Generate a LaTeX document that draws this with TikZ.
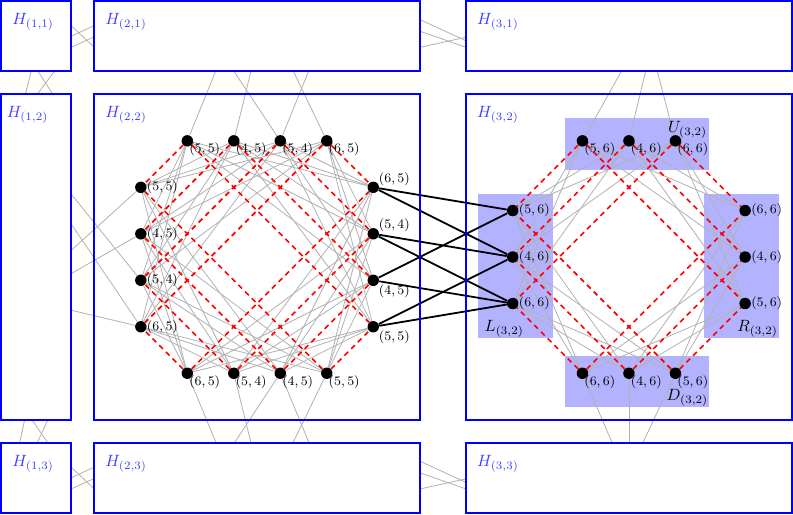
\documentclass[tikz,border=0pt]{standalone}
\pgfdeclarelayer{shadelayer}
\pgfdeclarelayer{edgelayer}
\pgfsetlayers{shadelayer,edgelayer,main}
\begin{document}
\begin{tikzpicture}[
  box/.style={draw=blue, line width=1.2pt, inner sep=0pt},
  wbox/.style={box, fill=white},
  hlab/.style={anchor=north west, inner sep=0pt, text=blue!75},
  dot/.style={circle, fill=black, inner sep=0pt, minimum size=7pt},
  lbr/.style={anchor=north west, font=\footnotesize, inner sep=1pt},
  lrt/.style={anchor=west, font=\footnotesize, inner sep=1pt, xshift=0.09cm},
  lart/.style={anchor=south west, font=\footnotesize, inner sep=1pt, xshift=0.08cm},
  lbrt/.style={anchor=north west, font=\footnotesize, inner sep=1pt, xshift=0.08cm, yshift=-0.05cm},
  gedge/.style={draw=gray!60, line width=0.5pt},
  redge/.style={draw=red, dash pattern=on 3.2pt off 2.6pt, line width=1pt},
  bedge/.style={draw=black, line width=1.1pt},
  shadebox/.style={fill=blue!30, inner sep=0pt},
  glab/.style={inner sep=0pt}
]
\useasboundingbox (-0.03,0.03) rectangle (17.03,-11.03);

% ---------- boxes ----------
\node[wbox, minimum width=1.5cm, minimum height=1.5cm] (H11) at (0.75,-0.75) {};
\node[wbox, minimum width=7cm, minimum height=1.5cm] (H21) at (5.5,-0.75) {};
\node[wbox, minimum width=7cm, minimum height=1.5cm] (H31) at (13.5,-0.75) {};
\node[wbox, minimum width=1.5cm, minimum height=7cm] (H12) at (0.75,-5.5) {};
\node[box, minimum width=7cm, minimum height=7cm] (H22) at (5.5,-5.5) {};
\node[box, minimum width=7cm, minimum height=7cm] (H32) at (13.5,-5.5) {};
\node[wbox, minimum width=1.5cm, minimum height=1.5cm] (H13) at (0.75,-10.25) {};
\node[wbox, minimum width=7cm, minimum height=1.5cm] (H23) at (5.5,-10.25) {};
\node[wbox, minimum width=7cm, minimum height=1.5cm] (H33) at (13.5,-10.25) {};

\node[hlab] (h11) at ([xshift=0.25cm,yshift=-0.28cm]H11.north west) {$H_{(1,1)}$};
\node[hlab] (h21) at ([xshift=0.25cm,yshift=-0.28cm]H21.north west) {$H_{(2,1)}$};
\node[hlab] (h31) at ([xshift=0.25cm,yshift=-0.28cm]H31.north west) {$H_{(3,1)}$};
\node[hlab] (h12) at ([xshift=0.13cm,yshift=-0.28cm]H12.north west) {$H_{(1,2)}$};
\node[hlab] (h22) at ([xshift=0.25cm,yshift=-0.28cm]H22.north west) {$H_{(2,2)}$};
\node[hlab] (h32) at ([xshift=0.25cm,yshift=-0.28cm]H32.north west) {$H_{(3,2)}$};
\node[hlab] (h13) at ([xshift=0.25cm,yshift=-0.28cm]H13.north west) {$H_{(1,3)}$};
\node[hlab] (h23) at ([xshift=0.25cm,yshift=-0.28cm]H23.north west) {$H_{(2,3)}$};
\node[hlab] (h33) at ([xshift=0.25cm,yshift=-0.28cm]H33.north west) {$H_{(3,3)}$};

% ---------- shaded groups in H(3,2) ----------
\begin{pgfonlayer}{shadelayer}
\node[shadebox, minimum width=3.11cm, minimum height=1.12cm] (Ubox) at (13.675,-3.07) {};
\node[shadebox, minimum width=1.61cm, minimum height=3.11cm] (Lbox) at (11.055,-5.695) {};
\node[shadebox, minimum width=1.61cm, minimum height=3.11cm] (Rbox) at (15.925,-5.695) {};
\node[shadebox, minimum width=3.11cm, minimum height=1.10cm] (Dbox) at (13.675,-8.18) {};
\end{pgfonlayer}
\node[glab, anchor=north east] (Ulab) at (15.19,-2.57) {$U_{(3,2)}$};
\node[glab, anchor=south west] (Llab) at (10.39,-7.23) {$L_{(3,2)}$};
\node[glab, anchor=south east] (Rlab) at (16.71,-7.23) {$R_{(3,2)}$};
\node[glab, anchor=south east] (Dlab) at (15.21,-8.71) {$D_{(3,2)}$};

% ---------- labels of H(2,2) ----------
\node[lbr] (At1x) at (4,-3) {$(5,5)$};
\node[lbr] (At2x) at (5,-3) {$(4,5)$};
\node[lbr] (At3x) at (6,-3) {$(5,4)$};
\node[lbr] (At4x) at (7,-3) {$(6,5)$};
\node[lrt] (Al1x) at (3,-4) {$(5,5)$};
\node[lrt] (Al2x) at (3,-5) {$(4,5)$};
\node[lrt] (Al3x) at (3,-6) {$(5,4)$};
\node[lrt] (Al4x) at (3,-7) {$(6,5)$};
\node[lart] (Ar1x) at (8,-4) {$(6,5)$};
\node[lart] (Ar2x) at (8,-5) {$(5,4)$};
\node[lbrt] (Ar3x) at (8,-6) {$(4,5)$};
\node[lbrt] (Ar4x) at (8,-7) {$(5,5)$};
\node[lbr] (Ab1x) at (4,-8) {$(6,5)$};
\node[lbr] (Ab2x) at (5,-8) {$(5,4)$};
\node[lbr] (Ab3x) at (6,-8) {$(4,5)$};
\node[lbr] (Ab4x) at (7,-8) {$(5,5)$};

% ---------- labels of H(3,2) ----------
\node[lbr] (Bu1x) at (12.5,-3) {$(5,6)$};
\node[lbr] (Bu2x) at (13.5,-3) {$(4,6)$};
\node[lbr] (Bu3x) at (14.5,-3) {$(6,6)$};
\node[lrt] (Bl1x) at (11,-4.5) {$(5,6)$};
\node[lrt] (Bl2x) at (11,-5.5) {$(4,6)$};
\node[lrt] (Bl3x) at (11,-6.5) {$(6,6)$};
\node[lrt] (Br1x) at (16,-4.5) {$(6,6)$};
\node[lrt] (Br2x) at (16,-5.5) {$(4,6)$};
\node[lrt] (Br3x) at (16,-6.5) {$(5,6)$};
\node[lbr] (Bd1x) at (12.5,-8) {$(6,6)$};
\node[lbr] (Bd2x) at (13.5,-8) {$(4,6)$};
\node[lbr] (Bd3x) at (14.5,-8) {$(5,6)$};

% ---------- vertices ----------
\node[dot] (At1) at (4,-3) {};
\node[dot] (At2) at (5,-3) {};
\node[dot] (At3) at (6,-3) {};
\node[dot] (At4) at (7,-3) {};
\node[dot] (Al1) at (3,-4) {};
\node[dot] (Al2) at (3,-5) {};
\node[dot] (Al3) at (3,-6) {};
\node[dot] (Al4) at (3,-7) {};
\node[dot] (Ar1) at (8,-4) {};
\node[dot] (Ar2) at (8,-5) {};
\node[dot] (Ar3) at (8,-6) {};
\node[dot] (Ar4) at (8,-7) {};
\node[dot] (Ab1) at (4,-8) {};
\node[dot] (Ab2) at (5,-8) {};
\node[dot] (Ab3) at (6,-8) {};
\node[dot] (Ab4) at (7,-8) {};

\node[dot] (Bu1) at (12.5,-3) {};
\node[dot] (Bu2) at (13.5,-3) {};
\node[dot] (Bu3) at (14.5,-3) {};
\node[dot] (Bl1) at (11,-4.5) {};
\node[dot] (Bl2) at (11,-5.5) {};
\node[dot] (Bl3) at (11,-6.5) {};
\node[dot] (Br1) at (16,-4.5) {};
\node[dot] (Br2) at (16,-5.5) {};
\node[dot] (Br3) at (16,-6.5) {};
\node[dot] (Bd1) at (12.5,-8) {};
\node[dot] (Bd2) at (13.5,-8) {};
\node[dot] (Bd3) at (14.5,-8) {};

% ---------- free ends of the connectors leaving the boxes ----------
\coordinate (xt1) at (4.61,-1.5);
\coordinate (xt2) at (5.37,-1.5);
\coordinate (xt3a) at (5.0,-1.5);
\coordinate (xt3b) at (6.61,-1.5);
\coordinate (xt4) at (6.28,-1.5);
\coordinate (xb1) at (4.62,-9.5);
\coordinate (xb2) at (5.37,-9.5);
\coordinate (xb3a) at (5.01,-9.5);
\coordinate (xb3b) at (6.62,-9.5);
\coordinate (xb4) at (6.27,-9.5);
\coordinate (xl1) at (1.5,-5.357);
\coordinate (xl2) at (1.5,-5.857);
\coordinate (xl3) at (1.5,-4.143);
\coordinate (xl4a) at (1.5,-4.786);
\coordinate (xl4b) at (1.5,-6.643);
\coordinate (xu1) at (13.34,-1.5);
\coordinate (xu2) at (13.86,-1.5);
\coordinate (xu3) at (14.11,-1.5);
\coordinate (xd1) at (13.14,-9.5);
\coordinate (xd2) at (13.5,-9.5);
\coordinate (xd3) at (13.8,-9.5);

\begin{pgfonlayer}{edgelayer}
% gray edges inside H(2,2)
\foreach \p/\a in {t1/55,t2/45,t3/54,t4/65,b1/65,b2/54,b3/45,b4/55}{
  \foreach \q/\b in {l1/55,l2/45,l3/54,l4/65,r1/65,r2/54,r3/45,r4/55}{
    \ifnum\a=\b\relax\else\draw[gedge] (A\p) -- (A\q);\fi
  }}
% gray edges inside H(3,2)
\foreach \p/\a in {u1/56,u2/46,u3/66,d1/66,d2/46,d3/56}{
  \foreach \q/\b in {l1/56,l2/46,l3/66,r1/66,r2/46,r3/56}{
    \ifnum\a=\b\relax\else\draw[gedge] (B\p) -- (B\q);\fi
  }}
% gray edges to the neighbouring boxes
\draw[gedge] (At1) -- (xt1);
\draw[gedge] (At2) -- (xt2);
\draw[gedge] (At3) -- (xt3a);
\draw[gedge] (At3) -- (xt3b);
\draw[gedge] (At4) -- (xt4);
\draw[gedge] (Ab1) -- (xb1);
\draw[gedge] (Ab2) -- (xb2);
\draw[gedge] (Ab3) -- (xb3a);
\draw[gedge] (Ab3) -- (xb3b);
\draw[gedge] (Ab4) -- (xb4);
\draw[gedge] (Al1) -- (xl1);
\draw[gedge] (Al2) -- (xl2);
\draw[gedge] (Al3) -- (xl3);
\draw[gedge] (Al4) -- (xl4a);
\draw[gedge] (Al4) -- (xl4b);
\draw[gedge] (Bu1) -- (xu1);
\draw[gedge] (Bu2) -- (xu2);
\draw[gedge] (Bu3) -- (xu3);
\draw[gedge] (Bd1) -- (xd1);
\draw[gedge] (Bd2) -- (xd2);
\draw[gedge] (Bd3) -- (xd3);
% gray edges between the outer boxes
\draw[gedge] (1.5,-0.52) coordinate (g1a) -- (2,-0.99) coordinate (g1b);
\draw[gedge] (1.5,-0.75) coordinate (g2a) -- (2,-0.52) coordinate (g2b);
\draw[gedge] (1.5,-0.99) coordinate (g3a) -- (2,-0.76) coordinate (g3b);
\draw[gedge] (1.5,-10.02) coordinate (g4a) -- (2,-10.49) coordinate (g4b);
\draw[gedge] (1.5,-10.25) coordinate (g5a) -- (2,-10.02) coordinate (g5b);
\draw[gedge] (1.5,-10.49) coordinate (g6a) -- (2,-10.26) coordinate (g6b);
\draw[gedge] (9,-0.39) coordinate (g7a) -- (10,-0.85) coordinate (g7b);
\draw[gedge] (9,-0.64) coordinate (g8a) -- (10,-0.99) coordinate (g8b);
\draw[gedge] (9,-0.99) coordinate (g9a) -- (10,-0.77) coordinate (g9b);
\draw[gedge] (9,-9.89) coordinate (g10a) -- (10,-10.35) coordinate (g10b);
\draw[gedge] (9,-10.14) coordinate (g11a) -- (10,-10.49) coordinate (g11b);
\draw[gedge] (9,-10.49) coordinate (g12a) -- (10,-10.27) coordinate (g12b);
\draw[gedge] (0.643,-1.5) coordinate (g13a) -- (0.514,-2) coordinate (g13b);
\draw[gedge] (0.786,-1.5) coordinate (g14a) -- (1.107,-2) coordinate (g14b);
\draw[gedge] (1.143,-1.5) coordinate (g15a) -- (0.771,-2) coordinate (g15b);
\draw[gedge] (0.5,-9) coordinate (g16a) -- (0.393,-9.5) coordinate (g16b);
\draw[gedge] (0.657,-9) coordinate (g17a) -- (1.0,-9.5) coordinate (g17b);
\draw[gedge] (1.0,-9) coordinate (g18a) -- (0.771,-9.5) coordinate (g18b);
% red dashed edges (equal labels)
\foreach \p/\a in {t1/55,t2/45,t3/54,t4/65,b1/65,b2/54,b3/45,b4/55}{
  \foreach \q/\b in {l1/55,l2/45,l3/54,l4/65,r1/65,r2/54,r3/45,r4/55}{
    \ifnum\a=\b\relax\draw[redge] (A\p) -- (A\q);\fi
  }}
\foreach \p/\a in {u1/56,u2/46,u3/66,d1/66,d2/46,d3/56}{
  \foreach \q/\b in {l1/56,l2/46,l3/66,r1/66,r2/46,r3/56}{
    \ifnum\a=\b\relax\draw[redge] (B\p) -- (B\q);\fi
  }}
% black edges between H(2,2) and H(3,2)
\draw[bedge] (Ar1) -- (Bl1);
\draw[bedge] (Ar1) -- (Bl2);
\draw[bedge] (Ar2) -- (Bl2);
\draw[bedge] (Ar2) -- (Bl3);
\draw[bedge] (Ar3) -- (Bl1);
\draw[bedge] (Ar3) -- (Bl3);
\draw[bedge] (Ar4) -- (Bl2);
\draw[bedge] (Ar4) -- (Bl3);
\end{pgfonlayer}
\end{tikzpicture}
\end{document}
